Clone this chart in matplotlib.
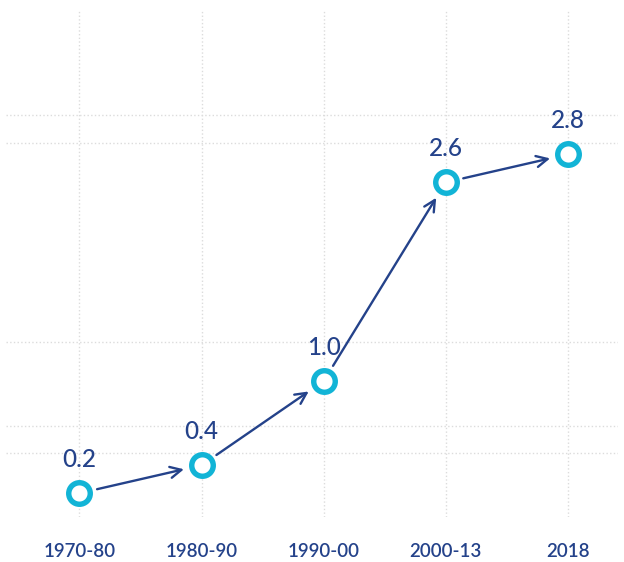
import matplotlib
matplotlib.use("Agg")
import matplotlib.pyplot as plt

periods = ["1970-80", "1980-90", "1990-00", "2000-13", "2018"]
values = [0.2, 0.4, 1.0, 2.6, 2.8]
# vertical placement as drawn in the source chart (not strictly to scale)
heights = [0.2, 0.4, 1.0, 2.42, 2.62]
grid_levels = [0.49, 0.68, 1.28, 2.7, 2.9]

navy = "#24428a"
cyan = "#12b4d6"

plt.rcParams["font.family"] = ["Lato", "DejaVu Sans"]

fig = plt.figure(figsize=(6.24, 5.62), dpi=100)
ax = fig.add_axes([0.01, 0.08, 0.98, 0.902])

x = list(range(len(periods)))

# arrows between consecutive points
for i in range(len(x) - 1):
    ax.annotate("", xy=(x[i + 1], heights[i + 1]), xytext=(x[i], heights[i]),
                arrowprops=dict(arrowstyle="->", color=navy, lw=1.7,
                                shrinkA=13, shrinkB=13, mutation_scale=20),
                zorder=2)

ax.plot(x, heights, linestyle="none", marker="o", markersize=15.5,
        markerfacecolor="white", markeredgecolor=cyan, markeredgewidth=3.9,
        zorder=3)

for xi, h, v in zip(x, heights, values):
    ax.annotate(f"{v:.1f}", xy=(xi, h), xytext=(0, 16), textcoords="offset points",
                ha="center", va="bottom", fontsize=17.5, color=navy,
                fontweight="medium")

ax.set_xlim(-0.6, 4.41)
ax.set_ylim(0.03, 3.65)
ax.set_xticks(x)
ax.set_xticklabels(periods, fontsize=13.5, color=navy, fontweight="semibold")
ax.set_yticks(grid_levels)
ax.set_yticklabels([])
ax.tick_params(axis="both", length=0)
ax.tick_params(axis="x", pad=19)
ax.grid(True, color="#dcdcdc", linestyle=":", linewidth=1)
ax.set_axisbelow(True)
for s in ax.spines.values():
    s.set_visible(False)

fig.savefig("out.png", dpi=100)
